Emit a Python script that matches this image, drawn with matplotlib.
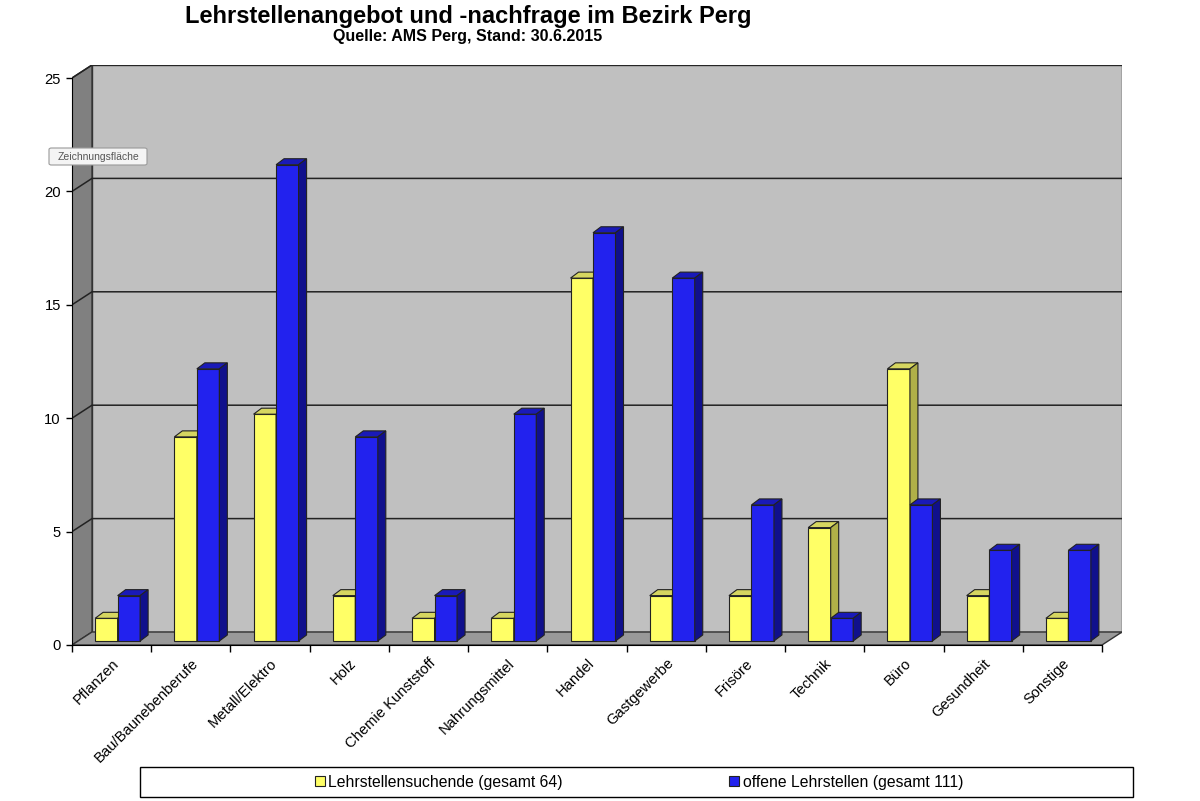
import matplotlib
matplotlib.use("Agg")
import matplotlib.pyplot as plt
from matplotlib.patches import Polygon, Rectangle, Patch, FancyBboxPatch

plt.rcParams['font.family'] = ['Liberation Sans', 'DejaVu Sans']

categories = ["Pflanzen", "Bau/Baunebenberufe", "Metall/Elektro", "Holz",
              "Chemie Kunststoff", "Nahrungsmittel", "Handel", "Gastgewerbe",
              "Frisöre", "Technik", "Büro", "Gesundheit", "Sonstige"]
suchende = [1, 9, 10, 2, 1, 1, 16, 2, 2, 5, 12, 2, 1]
offene = [2, 12, 21, 9, 2, 10, 18, 16, 6, 1, 6, 4, 4]
series_labels = ["Lehrstellensuchende (gesamt 64)", "offene Lehrstellen (gesamt 111)"]
yticks = [0, 5, 10, 15, 20, 25]

W, H = 1200, 801
fig = plt.figure(figsize=(W / 100, H / 100), dpi=100)
fig.patch.set_facecolor('white')

# front plane pixels: x 72..1102, y 645 (0) .. 78 (25); back wall shifted (+20,-13)
n = len(categories)
px_per_cat = (1102 - 72) / n
px_per_val = (645 - 78) / 25
dxb = 20 / px_per_cat
dyb = 13 / px_per_val
xmin, xmax = -0.5, n - 0.5
ymax = 25

ax = fig.add_axes([72 / W, (H - 645) / H, (1122 - 72) / W, (645 - 65) / H])
ax.set_xlim(xmin, xmax + dxb)
ax.set_ylim(0, ymax + dyb)
ax.patch.set_visible(False)

# walls
back = Polygon([(xmin + dxb, dyb), (xmax + dxb, dyb), (xmax + dxb, ymax + dyb), (xmin + dxb, ymax + dyb)],
               closed=True, facecolor='#c0c0c0', edgecolor='#333333', lw=1.0, zorder=0)
left = Polygon([(xmin, 0), (xmin, ymax), (xmin + dxb, ymax + dyb), (xmin + dxb, dyb)],
               closed=True, facecolor='#808080', edgecolor='#333333', lw=1.0, zorder=0)
floor = Polygon([(xmin, 0), (xmax, 0), (xmax + dxb, dyb), (xmin + dxb, dyb)],
                closed=True, facecolor='#999999', edgecolor='#333333', lw=1.0, zorder=0)
for p in (back, left, floor):
    ax.add_patch(p)
for v in yticks[1:]:
    ax.plot([xmin, xmin + dxb, xmax + dxb], [v, v + dyb, v + dyb], color='#222222', lw=1.1, zorder=1)

# bars
w = 22.5 / px_per_cat
shift = 6 / px_per_cat
b0 = 4 / px_per_val
ddx = 8 / px_per_cat
ddy = 6 / px_per_val


def draw_bars(lefts, vals, front, top, side, z):
    ax.bar(lefts, vals, width=w, bottom=b0, align='edge', color=front,
           edgecolor='#222222', lw=0.8, zorder=z)
    for xl, v in zip(lefts, vals):
        t = b0 + v
        ax.add_patch(Polygon([(xl, t), (xl + w, t), (xl + w + ddx, t + ddy), (xl + ddx, t + ddy)],
                             closed=True, facecolor=top, edgecolor='#222222', lw=0.8, zorder=z))
        ax.add_patch(Polygon([(xl + w, b0), (xl + w, t), (xl + w + ddx, t + ddy), (xl + w + ddx, b0 + ddy)],
                             closed=True, facecolor=side, edgecolor='#222222', lw=0.8, zorder=z))


idx = list(range(n))
draw_bars([i + shift - w for i in idx], suchende, '#ffff66', '#d6d660', '#b0b048', 3)
draw_bars([i + shift for i in idx], offene, '#2222ee', '#1a1ab8', '#10108c', 4)

# axes lines / ticks
for s in ('top', 'right'):
    ax.spines[s].set_visible(False)
ax.spines['left'].set_bounds(0, ymax)
ax.spines['bottom'].set_bounds(xmin, xmax)
ax.spines['left'].set_zorder(5)
ax.spines['bottom'].set_zorder(5)
ax.set_yticks(yticks)
ax.set_yticklabels([str(v) for v in yticks], fontsize=10.6)
ax.tick_params(axis='y', length=4, width=1, pad=4)
ax.set_xticks([xmin + k for k in range(n + 1)])
ax.set_xticklabels([])
ax.tick_params(axis='x', which='major', length=5, width=1)
ax.set_xticks(idx, minor=True)
ax.set_xticklabels(categories, minor=True, rotation=45, ha='right', rotation_mode='anchor', fontsize=10.6)
ax.tick_params(axis='x', which='minor', length=0, pad=8)

# titles
fig.text(468 / W, 1 - 16 / H, "Lehrstellenangebot und -nachfrage im Bezirk Perg",
         ha='center', va='center', fontsize=17, fontweight='bold')
fig.text(468 / W, 1 - 36 / H, "Quelle: AMS Perg, Stand: 30.6.2015",
         ha='center', va='center', fontsize=11.5, fontweight='bold')

# tooltip artifact
fig.patches.append(FancyBboxPatch((49 / W, 1 - 165 / H), 98 / W, 17 / H,
                                  boxstyle='round,pad=0,rounding_size=0.002',
                                  transform=fig.transFigure, facecolor='#f4f4f4',
                                  edgecolor='#9a9a9a', lw=0.8, zorder=10))
fig.text(98 / W, 1 - 156.5 / H, "Zeichnungsfläche", ha='center', va='center',
         fontsize=7.5, color='#555555', zorder=11)

# legend
fig.patches.append(Rectangle((140 / W, 1 - 797 / H), (1133 - 140) / W, 30 / H,
                             transform=fig.transFigure, facecolor='white', edgecolor='black', lw=1))
handles = [Patch(facecolor='#ffff66', edgecolor='#222222', lw=0.8),
           Patch(facecolor='#2222ee', edgecolor='#222222', lw=0.8)]
fig.legend(handles, series_labels, loc='center', bbox_to_anchor=(639 / W, 1 - 782 / H),
           ncol=2, frameon=False, fontsize=11.3, handlelength=0.65, handleheight=0.65,
           handletextpad=0.2, columnspacing=10.6, borderpad=0)

fig.savefig('out.png', dpi=100)
